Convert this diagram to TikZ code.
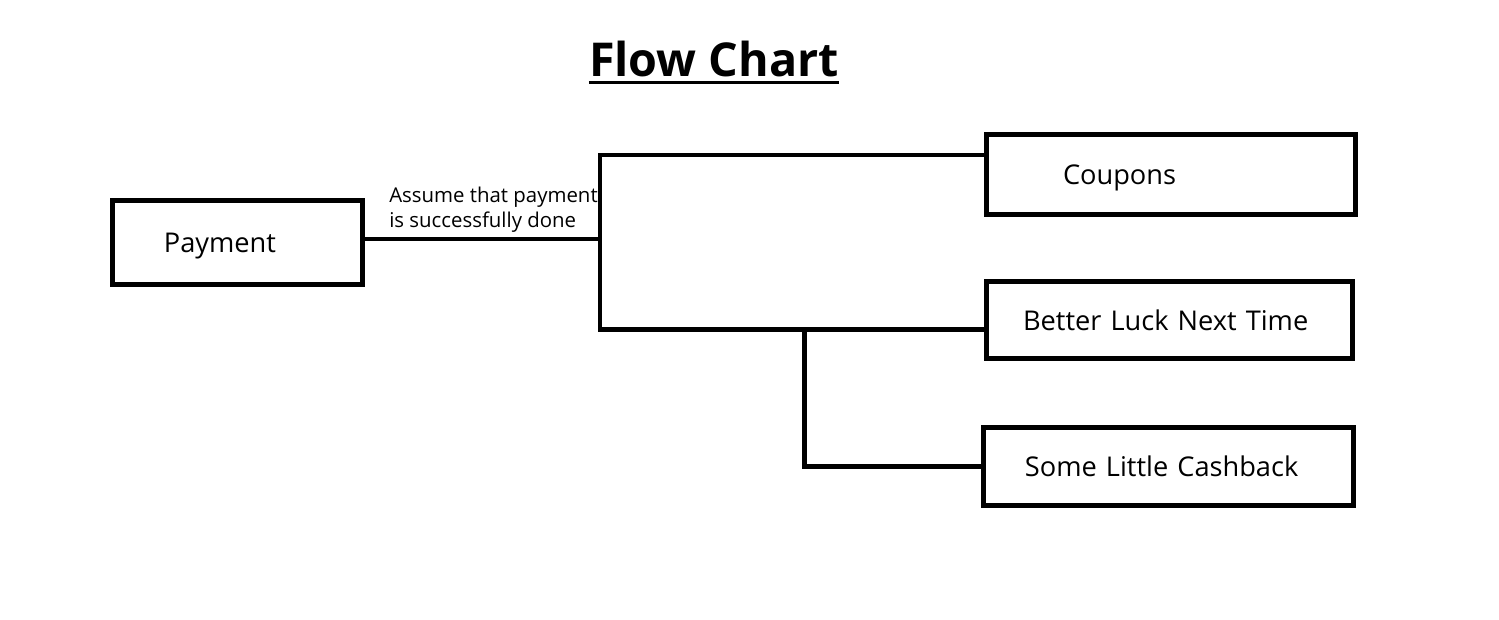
\documentclass[tikz,border=0pt]{standalone}
\usepackage{fontspec}
\setmainfont{Open Sans}
\usepackage{tikz}

\tikzset{
  box/.style={draw, line width=3.6pt, rectangle, align=left, anchor=center},
  link/.style={line width=3.6pt},
  boxtext/.style={font=\fontsize{20.4}{25}\selectfont},
}

\begin{document}
\begin{tikzpicture}[x=0.75pt,y=0.75pt,yscale=-1,xscale=1]
\useasboundingbox (0,0) rectangle (1499,620);

% Title
\node (title) [anchor=base, inner sep=0pt, font=\fontsize{35}{40}\bfseries] at (714,77) {Flow Chart};
\draw [line width=2.25pt] ([yshift=4.3pt]title.base west) -- ([yshift=4.3pt]title.base east);

% Boxes
\node (pay) [box, boxtext, text depth=0pt, minimum height=62.6pt, text width=110.3pt, inner xsep=38.4pt] at (237.5,242.5) {Payment};
\node (coupon) [box, boxtext, text depth=0pt, minimum height=60pt, text width=162pt, inner xsep=57.4pt] at (1171,174.5) {Coupons};
\node (luck) [box, boxtext, minimum height=57.75pt, text width=219.7pt, inner xsep=27.4pt] at (1169.5,320) {\mbox{Better Luck Next Time}};
\node (cash) [box, boxtext, minimum height=58.5pt, text width=215.3pt, inner xsep=31.1pt] at (1168.5,466.5) {\mbox{Some Little Cashback}};

% Connector points
\coordinate (join) at (600,239);
\coordinate (top) at (600,155);
\coordinate (low) at (600,329.5);
\coordinate (drop) at (804.5,329.5);

% Connectors
\draw [link] (pay.east |- join) -- (join);
\draw [link] (coupon.west |- top) -- (top) -- (low) -- (luck.west |- low);
\draw [link] (drop) |- (cash.west);

% Text Node
\node (note) [anchor=west, inner sep=0pt, align=left, font=\fontsize{15.3}{18.75}\selectfont] at (389,210) {Assume that payment\\is successfully done};

\end{tikzpicture}
\end{document}
